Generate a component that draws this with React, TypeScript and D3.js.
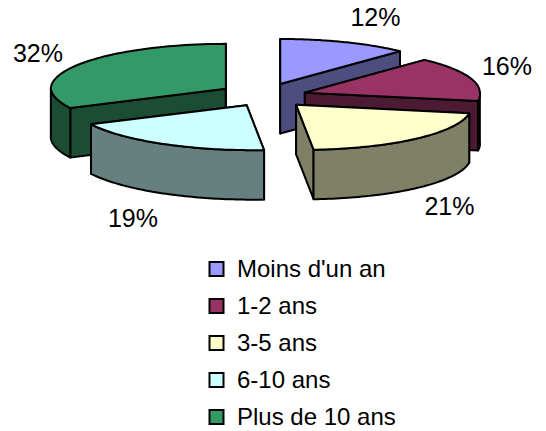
import React from "react";
import * as d3 from "d3";

const categories = ["Moins d'un an", "1-2 ans", "3-5 ans", "6-10 ans", "Plus de 10 ans"];
const values = [12, 16, 21, 19, 32];
const topColors = ["#9999FF", "#993366", "#FFFFCC", "#CCFFFF", "#339966"];
const sideColors = ["#4D4D80", "#4D1A33", "#808066", "#668080", "#1A4D33"];
const drawOrder = [0, 4, 1, 2, 3];
const nudgeX = [1, 0, 0, 6, 0];
const nudgeY = [0, 1, 0, -1, 0];
nudgeX[2] = 4;
const labelPos: [number, number][] = [[375.5, 26], [507, 75], [449.5, 215], [133, 227], [38, 62]];
const legendY = [269, 306, 343, 380, 417];

const FONT = "'Liberation Sans', Arial, sans-serif";
const cx = 263, cy = 95.5, rx = 175, ry = 45, depth = 49.5, explodeX = 44, explodeY = 12.4, shear = 6.5;

export default function App() {
  const arcs = d3.pie<number>().sort(null)(values);
  const line = d3.line<[number, number]>();

  const slices = drawOrder.map((i) => {
    const a = arcs[i];
    const mid = (a.startAngle + a.endAngle) / 2;
    const ax = cx + explodeX * Math.sin(mid) + nudgeX[i];
    const ay = cy - explodeY * Math.cos(mid) + nudgeY[i];
    const pt = (t: number): [number, number] => [
      ax + rx * Math.sin(t) + shear * Math.max(0, -Math.cos(t)),
      ay - ry * Math.cos(t),
    ];
    const down = (p: [number, number]): [number, number] => [p[0], p[1] + depth];
    const n = 60;
    const rimPts = d3.range(n + 1).map((k) => pt(a.startAngle + ((a.endAngle - a.startAngle) * k) / n));
    const top = line([[ax, ay], ...rimPts])! + "Z";
    const radial = (t: number) =>
      line([[ax, ay], pt(t), down(pt(t)), [ax, ay + depth]])! + "Z";
    const lo = Math.max(a.startAngle, Math.PI / 2);
    const hi = Math.min(a.endAngle, (3 * Math.PI) / 2);
    let rim: string | null = null;
    if (hi > lo) {
      const f = d3.range(n + 1).map((k) => pt(lo + ((hi - lo) * k) / n));
      rim = line([...f, ...f.slice().reverse().map(down)])! + "Z";
    }
    return { i, top, start: radial(a.startAngle), end: radial(a.endAngle), rim };
  });

  const stroke = { stroke: "#000", strokeWidth: 2, strokeLinejoin: "round" as const };

  return (
    <svg width={546} height={431} style={{ position: "absolute", left: 0, top: 0, background: "#fff" }}>
      {slices.map((s) => (
        <g key={s.i}>
          <path d={s.start} fill={sideColors[s.i]} {...stroke} />
          <path d={s.end} fill={sideColors[s.i]} {...stroke} />
          {s.rim && <path d={s.rim} fill={sideColors[s.i]} {...stroke} />}
          <path d={s.top} fill={topColors[s.i]} {...stroke} />
        </g>
      ))}
      {values.map((v, i) => (
        <text key={i} x={labelPos[i][0]} y={labelPos[i][1]} textAnchor="middle" fontFamily={FONT} fontSize={25} fill="#000">
          {d3.format(".0%")(v / 100)}
        </text>
      ))}
      {categories.map((c, i) => (
        <g key={c}>
          <rect x={209.5} y={legendY[i] - 7} width={14} height={14} fill={topColors[i]} stroke="#000" strokeWidth={2} />
          <text x={237} y={legendY[i] + 8} fontFamily={FONT} fontSize={24} fill="#000">{c}</text>
        </g>
      ))}
    </svg>
  );
}
